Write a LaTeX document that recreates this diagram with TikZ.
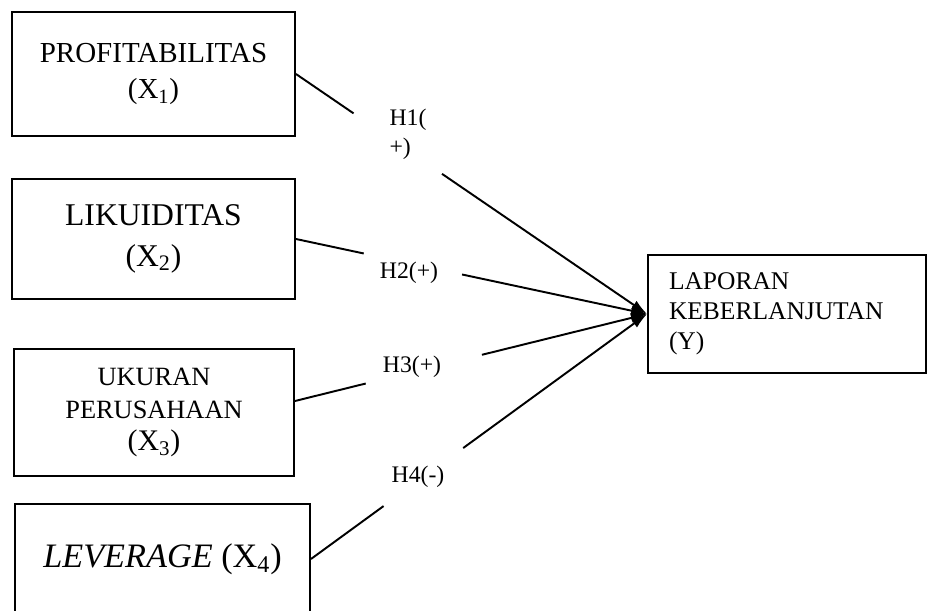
\documentclass[tikz,border=0pt]{standalone}
\usepackage{fontspec}
\setmainfont{Liberation Serif}
\usepackage{tikz}
\usetikzlibrary{arrows.meta, positioning}

\begin{document}
\begin{tikzpicture}[
    box/.style={rectangle, draw=black, line width=1.1pt, fill=white, align=center, inner sep=0pt},
    hyp/.style={font=\fontsize{13.5}{16.5}\selectfont, align=left, inner sep=0pt},
    link/.style={line width=1.1pt, black},
    arrow/.style={-{Latex[length=3.2mm, width=2mm]}, line width=1.1pt, black}
]
    \useasboundingbox (0,0) rectangle (18.54,12.2);

    % Independent variables
    \node[box, minimum width=5.66cm, minimum height=2.48cm, font=\fontsize{16.5}{21}\selectfont] (b1) at (3.07, 10.72) {PROFITABILITAS\\(X\textsubscript{1})};
    \node[box, minimum width=5.66cm, minimum height=2.40cm, font=\fontsize{18}{23}\selectfont] (b2) at (3.07, 7.42) {LIKUIDITAS\\(X\textsubscript{2})};
    \node[box, minimum width=5.60cm, minimum height=2.54cm, font=\fontsize{15}{18.7}\selectfont] (b3) at (3.08, 3.95) {UKURAN\\PERUSAHAAN\\{\fontsize{17}{18.7}\selectfont (X\textsubscript{3})}};
    \node[box, minimum width=5.90cm, minimum height=2.20cm, font=\fontsize{19.5}{23}\selectfont] (b4) at (3.25, 1.02) {\textit{LEVERAGE} (X\textsubscript{4})};

    % Dependent variable
    \node[box, minimum width=5.56cm, minimum height=2.36cm, text width=4.72cm, align=left, font=\fontsize{14.5}{17}\selectfont] (y) at (15.74, 5.92) {LAPORAN\\KEBERLANJUTAN\\(Y)};

    % Hypotheses
    \node[hyp] (h1) at (8.16, 9.52) {H1(\\+)};
    \node[hyp] (h2) at (8.18, 6.74) {H2(+)};
    \node[hyp] (h3) at (8.24, 4.86) {H3(+)};
    \node[hyp] (h4) at (8.36, 2.66) {H4(-)};

    % Gaps round the labels
    \path (b1.east) -- coordinate[pos=0.164] (g1a) coordinate[pos=0.416] (g1b) (y.west);
    \path (b2.east) -- coordinate[pos=0.193] (g2a) coordinate[pos=0.473] (g2b) (y.west);
    \path ([yshift=2.3mm]b3.east) coordinate (s3) -- coordinate[pos=0.201] (g3a) coordinate[pos=0.531] (g3b) (y.west);
    \path (b4.east) -- coordinate[pos=0.216] (g4a) coordinate[pos=0.453] (g4b) (y.west);

    % Arrows
    \draw[link] (b1.east) -- (g1a);
    \draw[arrow] (g1b) -- (y.west);
    \draw[link] (b2.east) -- (g2a);
    \draw[arrow] (g2b) -- (y.west);
    \draw[link] (s3) -- (g3a);
    \draw[arrow] (g3b) -- (y.west);
    \draw[link] (b4.east) -- (g4a);
    \draw[arrow] (g4b) -- (y.west);
\end{tikzpicture}
\end{document}
